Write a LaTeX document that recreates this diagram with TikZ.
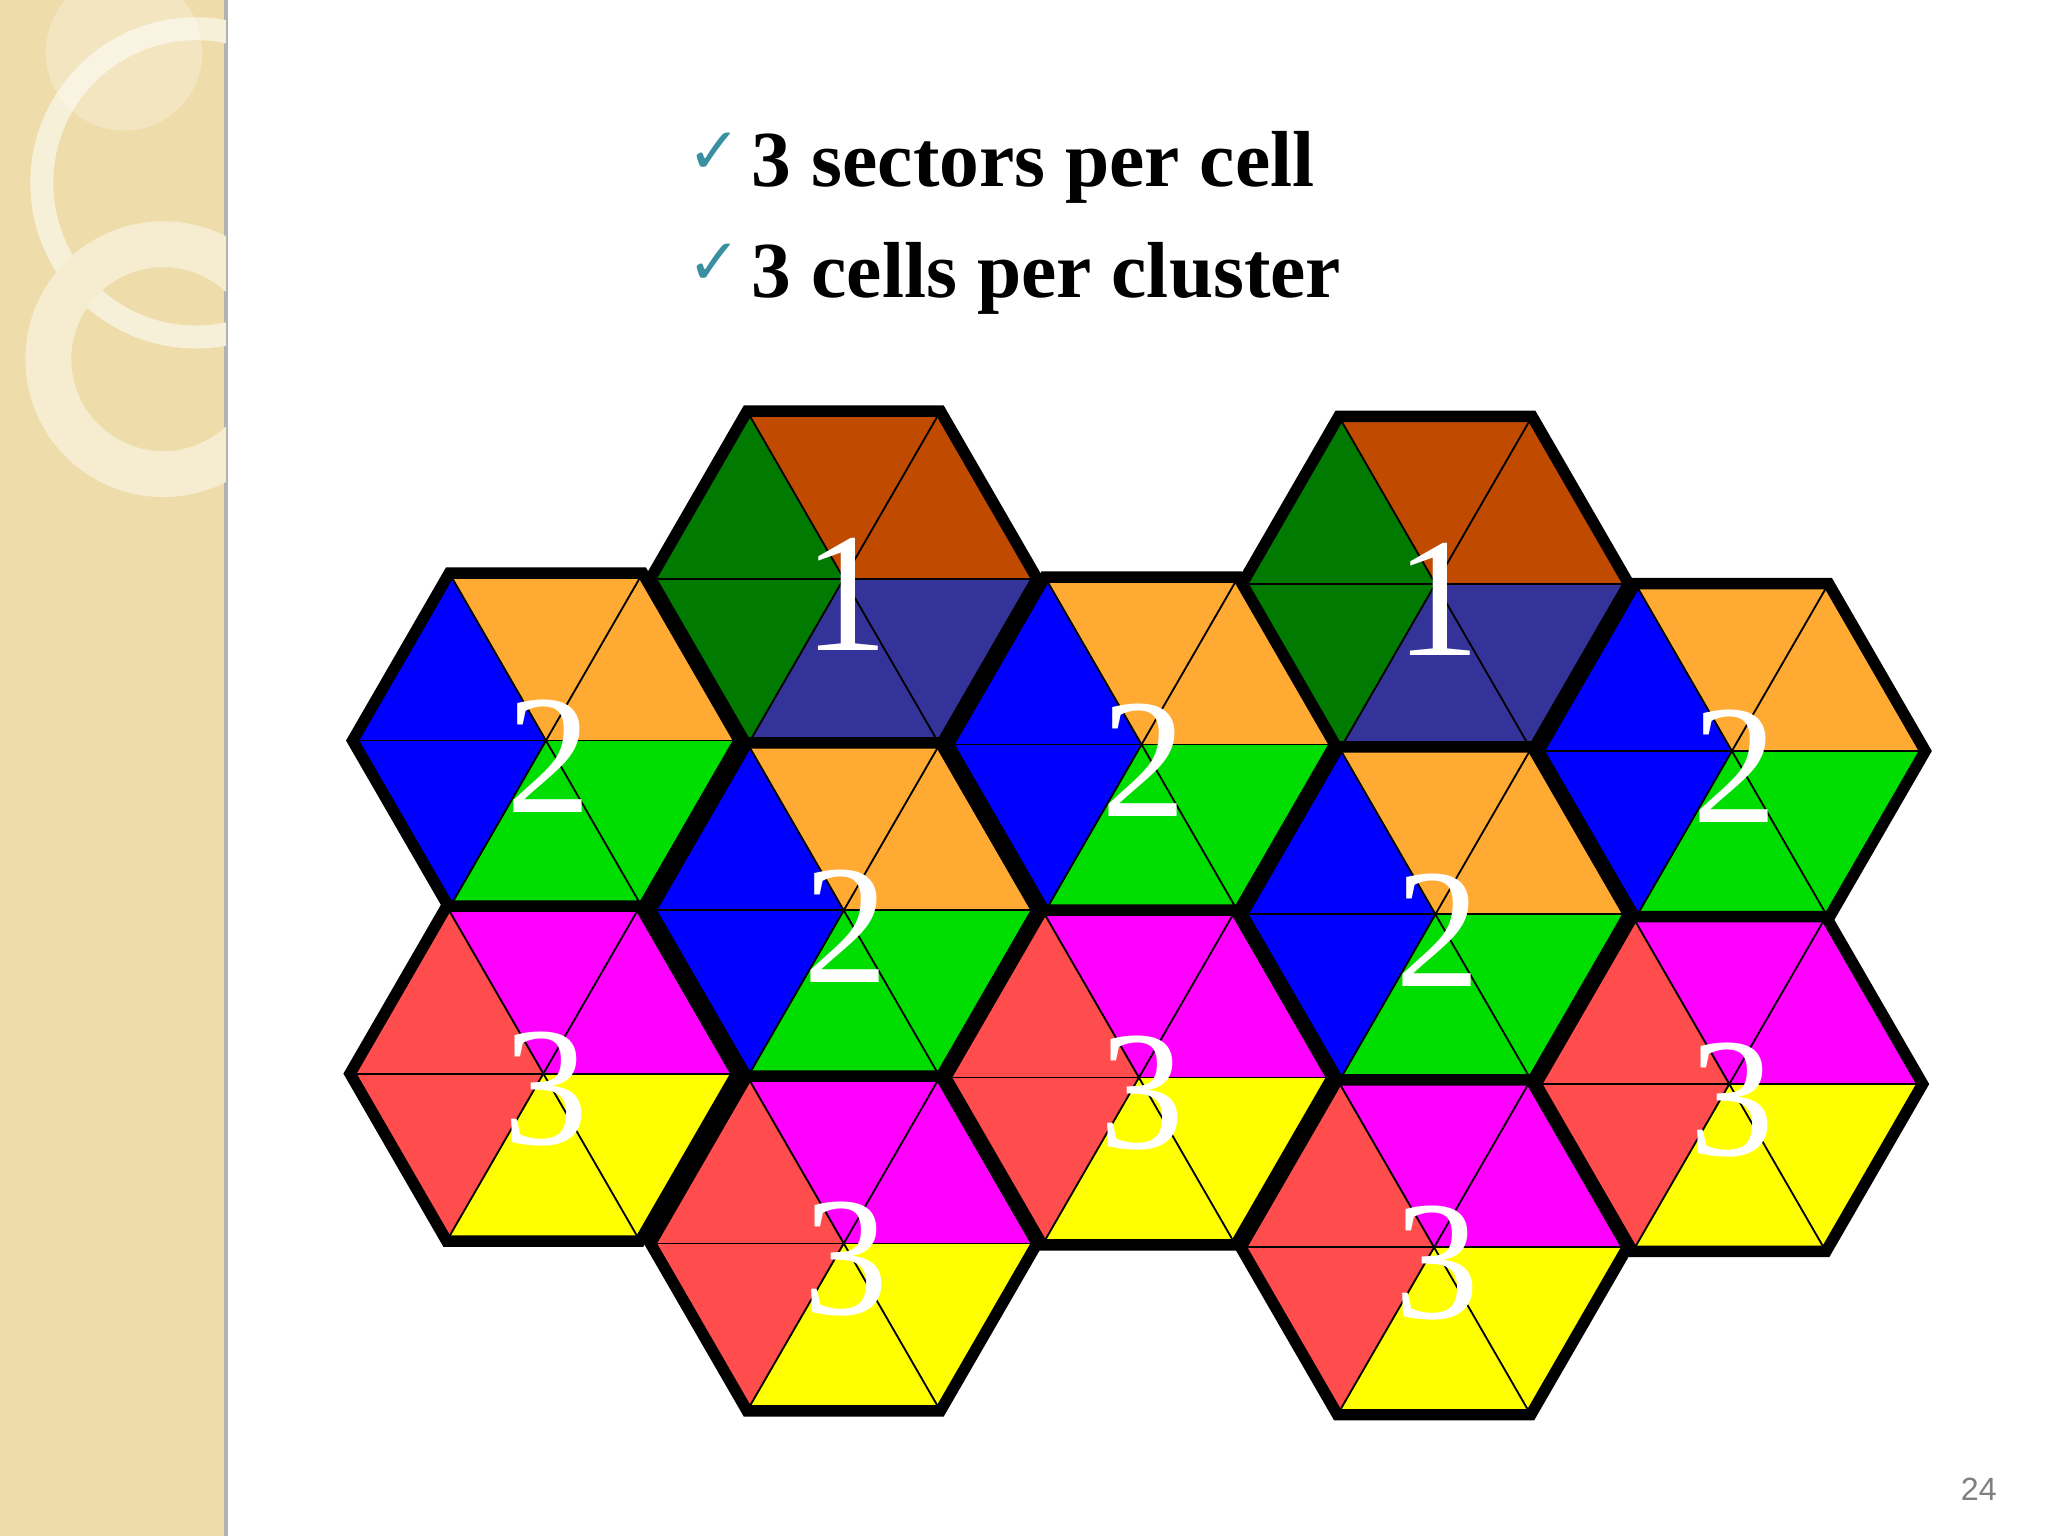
\documentclass[tikz,border=0pt]{standalone}
\usepackage{fontspec}
\setmainfont{Liberation Serif}
\newfontfamily\djv{DejaVu Sans}
\newfontfamily\lsans{Liberation Sans}
\definecolor{brn}{HTML}{C04A00}
\definecolor{dgr}{HTML}{007A00}
\definecolor{nav}{HTML}{333399}
\definecolor{org}{HTML}{FFAA33}
\definecolor{blu}{HTML}{0000FF}
\definecolor{grn}{HTML}{00DD00}
\definecolor{mag}{HTML}{FF00FF}
\definecolor{rd}{HTML}{FF4C4C}
\definecolor{yel}{HTML}{FFFF00}
\definecolor{beige}{HTML}{EEDDAA}
\definecolor{tick}{HTML}{3A8FA0}
\tikzset{lbl/.style={text=white,font=\fontsize{37}{40}\selectfont,inner sep=0pt},
 bullet/.style={font=\bfseries\fontsize{17.3}{20}\selectfont,anchor=west,inner sep=0pt},
 chk/.style={text=tick,font=\djv\fontsize{14}{15}\selectfont,anchor=east,inner sep=0pt}}
\begin{document}
\begin{tikzpicture}[x=0.01cm,y=-0.01cm]
\useasboundingbox (0,0) rectangle (1568,1176);
\fill[white] (0,0) rectangle (1568,1176);
\fill[beige] (0,0) rectangle (173,1176);
\draw[gray!60,line width=1pt] (173,0) -- (173,1176);
\begin{scope}
\clip (0,0) rectangle (173,1176);
\draw[white!55!beige,line width=5pt] (150,140) circle (118);
\draw[white!45!beige,line width=10pt] (125,275) circle (88);
\fill[white,opacity=0.25] (95,40) circle (60);
\end{scope}
\node[bullet] (b1) at (575,128) {3 sectors per cell};
\node[bullet] (b2) at (575,213) {3 cells per cluster};
\node[chk] (c1) at (568,117) {✓};
\node[chk] (c2) at (568,202) {✓};
\node[text=gray,font=\lsans\fontsize{7}{8}\selectfont] (pg) at (1515,1140) {24};
\def\R{148}
\foreach \cx/\cy/\k [count=\i] in {646/443/1,1099/447/1,418/567/2,874/570/2,1326/575/2,646/697/2,1099/700/2,416/822/3,872/825/3,1324/830/3,646/952/3,1098/955/3}{
 \ifnum\k=1 \def\ca{brn}\def\cb{dgr}\def\cc{nav}\fi
 \ifnum\k=2 \def\ca{org}\def\cb{blu}\def\cc{grn}\fi
 \ifnum\k=3 \def\ca{mag}\def\cb{rd}\def\cc{yel}\fi
 \coordinate (c\i) at (\cx,\cy);
 \fill[\ca] (c\i) -- ++(\R,0) -- ++(-\R/2,-0.866*\R) -- ++(-\R,0) -- cycle;
 \fill[\cb] (c\i) -- ++(-\R/2,-0.866*\R) -- ++(-\R/2,0.866*\R) -- ++(\R/2,0.866*\R) -- cycle;
 \fill[\cc] (c\i) -- ++(-\R/2,0.866*\R) -- ++(\R,0) -- ++(\R/2,-0.866*\R) -- cycle;
 \foreach \a in {0,60,120}{\draw[line width=0.4pt] (c\i) ++(\a:\R) -- ++(\a+180:2*\R);}
 \draw[line width=2.5pt,line join=miter] (c\i) ++(\R,0) -- ++(-\R/2,-0.866*\R) -- ++(-\R,0) -- ++(-\R/2,0.866*\R) -- ++(\R/2,0.866*\R) -- ++(\R,0) -- cycle;
 \node[lbl] (n\i) at ([shift={(2,12)}]c\i) {\k};
}
\end{tikzpicture}
\end{document}
